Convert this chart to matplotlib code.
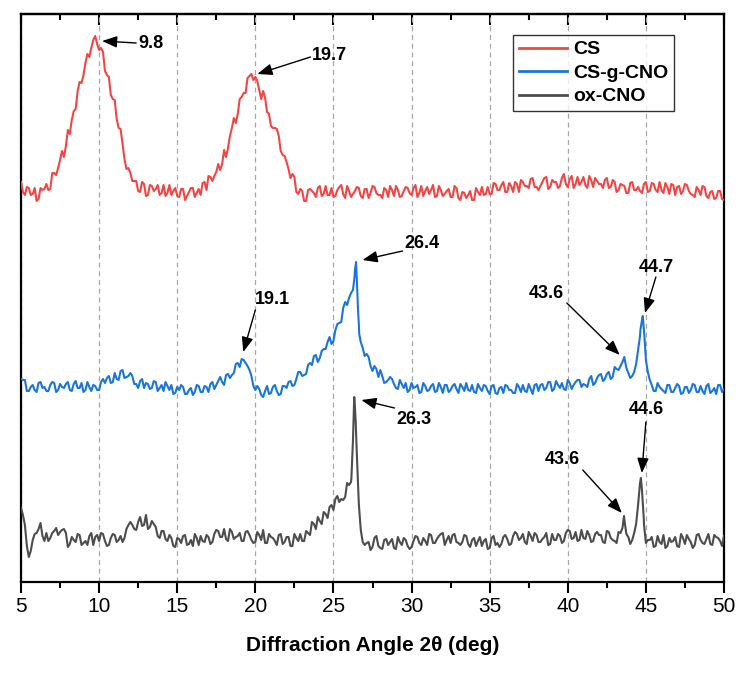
import numpy as np
import matplotlib
matplotlib.use("Agg")
import matplotlib.pyplot as plt
from matplotlib import font_manager
from matplotlib.ticker import MultipleLocator

# ---------------- data (intensity in arbitrary units, offset per curve) ----------------
angle_grid = np.arange(5, 50.001, 0.25)        # 5.000, 5.250, ... 50.000
angle_mid = np.arange(5.125, 49.9, 0.25)       # 5.125, 5.375, ... 49.875

cs = [400,387,394,388,381,394,393,392,409,407, 422,425,452,462,473,500,507,528,534,546,
      532,530,507,487,482,454,438,413,409,401, 391,400,386,397,391,397,389,386,397,391,
      386,393,382,390,394,389,387,400,406,401, 410,412,432,434,454,459,483,489,504,508,
      505,492,491,470,456,454,446,427,420,404, 405,388,391,381,393,389,394,386,396,387,
      385,392,397,384,391,388,395,386,393,384, 396,389,387,394,385,392,396,385,391,394,
      387,397,389,386,395,392,385,396,386,391, 385,396,384,390,384,391,382,390,395,388,
      388,399,392,397,390,399,390,398,402,396, 394,404,395,396,404,393,402,400,396,408,
      395,406,398,397,405,394,402,404,398,394, 404,395,400,392,397,389,399,392,395,389,
      400,391,398,390,392,399,388,397,395,388, 398,391,387,395,387,395,384,391,384,391,
      382]
cs_mid = [390,395,387,394,383,392,398,393,409,414, 431,436,448,471,491,499,519,525,542,538,
          534,511,505,483,463,453,423,414,401,401, 390,398,387,396,393,387,397,389,387,394,
          385,393,386,394,385,393,399,392,405,406, 418,418,425,446,464,468,485,489,506,502,
          501,483,484,468,454,453,431,426,413,408, 390,393,381,392,391,385,396,388,387,394,
          386,395,388,396,385,391,394,384,393,389, 395,387,384,392,396,386,392,386,395,389,
          394,385,396,391,388,397,386,392,388,393, 385,394,382,389,387,382,394,387,387,395,
          388,398,392,400,390,396,400,390,400,396, 403,395,392,400,405,395,400,394,404,398,
          403,394,405,400,397,406,395,401,398,402, 394,402,390,398,396,389,400,392,391,398,
          390,399,392,400,389,395,398,387,396,391, 397,388,385,392,396,386,390,383,391,383]

cs_g_cno = [203,202,191,197,190,200,195,191,200,190, 198,194,200,191,201,194,190,200,191,196,
            192,203,204,199,209,202,212,205,209,198, 194,203,199,193,201,191,197,200,192,188,
            195,197,188,192,187,197,190,196,190,200, 197,205,197,208,207,218,215,222,216,206,
            192,193,185,196,189,197,187,196,194,201, 197,210,206,208,219,226,220,231,233,245,
            241,258,260,280,284,292,300,240,226,225, 211,213,212,199,202,203,194,202,194,190,
            199,195,189,199,191,196,190,199,189,197, 192,198,189,195,199,191,190,198,191,196,
            188,197,188,195,197,192,189,198,190,191, 198,188,198,197,192,200,191,201,194,193,
            202,193,200,202,198,195,206,199,207,201, 208,203,215,212,220,214,204,210,232,262,
            222,202,191,199,193,189,197,190,198,188, 195,189,198,190,196,188,198,191,188,197,
            193]
cs_g_cno_mid = [202,191,195,192,199,194,191,197,199,192, 195,198,192,198,194,199,192,195,197,192,
                200,199,206,200,203,211,204,206,206,198, 201,194,198,194,200,194,191,196,197,189,
                192,195,188,194,190,196,190,195,198,193, 201,200,207,204,209,219,223,219,212,196,
                196,187,191,188,195,191,188,196,200,196, 203,210,207,217,217,227,224,233,240,238,
                252,259,274,277,289,312,258,234,228,216, 216,205,206,200,205,198,193,198,199,192,
                194,197,190,196,192,198,191,195,197,190, 196,193,198,191,192,197,189,194,197,191,
                196,189,194,189,196,192,189,195,197,190, 193,197,191,198,194,200,193,197,199,192,
                199,197,202,195,197,203,197,204,208,203, 210,205,213,216,224,209,206,218,246,252,
                210,197,191,195,191,197,190,194,196,189, 195,192,197,190,191,196,189,194,197,190]
cs_g_cno_peak_x = [26.35, 26.45, 26.58, 26.65, 43.62, 44.65, 44.8, 44.9]
cs_g_cno_peak_y = [305, 320, 270, 248, 225, 252, 266, 247]

ox_cno = [74,57,25,42,49,59,41,41,49,54, 50,53,35,45,40,47,39,37,49,45,
          41,48,36,44,47,42,40,53,60,53, 60,56,67,55,58,46,51,43,47,36,
          44,39,47,38,36,44,46,40,45,40, 52,45,53,41,50,45,49,41,51,42,
          40,47,52,39,45,41,47,38,45,36, 48,41,41,51,47,58,65,58,68,75,
          72,86,83,85,97,142,127,52,37,40, 35,46,34,42,37,43,33,40,44,36,
          35,46,39,44,37,47,39,46,49,42, 39,48,39,40,46,35,44,41,36,43,
          34,46,39,38,47,37,46,48,44,40, 50,41,47,40,45,37,48,42,46,41,
          52,43,50,42,44,51,40,48,47,40, 51,44,41,50,54,48,38,49,77,92,
          39,42,35,46,38,34,44,41,36,48, 38,43,34,47,42,38,48,37,45,41,
          46]
ox_cno_mid = [67,36,31,48,53,46,49,44,51,47, 52,49,38,42,48,37,41,46,37,47,
              49,41,37,48,40,46,44,57,57,52, 65,57,53,61,55,44,51,41,44,35,
              43,46,37,42,48,37,41,47,38,48, 51,45,43,53,43,46,41,50,47,39,
              50,42,39,48,44,37,48,40,45,36, 44,48,41,49,60,53,61,70,64,77,
              83,80,82,99,100,175,78,40,39,32, 44,36,33,43,40,34,45,37,42,33,
              41,45,37,41,48,39,43,48,37,46, 47,40,37,47,38,42,36,45,41,33,
              44,37,35,45,43,38,50,42,48,38, 46,49,40,43,49,38,42,48,39,49,
              51,44,41,52,43,47,41,50,47,39, 50,42,39,49,62,45,42,58,99,58,
              42,45,36,40,47,36,40,45,35,44, 47,40,37,48,39,43,38,47,44,36]
ox_cno_peak_x = [26.15, 26.33, 26.42, 26.6, 43.6, 44.62, 44.68, 44.87]
ox_cno_peak_y = [104, 185, 162, 87, 66, 97, 104, 62]

series_names = ["CS", "CS-g-CNO", "ox-CNO"]
series_colors = ["#F44545", "#1A76DA", "#4D4D4D"]

# annotations: label, arrow tip (x, y), arrow tail (x, y), text position (x, y), alignment
ann_labels = ["9.8", "19.7", "19.1", "26.4", "43.6", "44.7", "26.3", "43.6", "44.6"]
ann_tip = [(10.19, 541), (20.13, 508), (19.23, 230), (26.86, 322), (43.33, 227),
           (44.94, 269), (26.79, 182), (43.46, 69), (44.74, 109)]
ann_tail = [(12.37, 539), (23.53, 525), (20.0, 272), (29.42, 331), (39.94, 279),
            (45.64, 305), (28.91, 174), (40.96, 112), (45.0, 160)]
ann_text = [(12.5, 539), (23.65, 527), (21.09, 282), (29.55, 339), (38.65, 289),
            (45.64, 315), (30.13, 162), (39.68, 123), (45.0, 172)]
ann_ha = ["left", "left", "center", "left", "center", "center", "center", "center", "center"]


def merged(*pairs):
    xs = np.concatenate([np.asarray(p[0], float) for p in pairs])
    ys = np.concatenate([np.asarray(p[1], float) for p in pairs])
    o = np.argsort(xs, kind="stable")
    return xs[o], ys[o]


names = {f.name for f in font_manager.fontManager.ttflist}
narrow = "Liberation Sans Narrow" if "Liberation Sans Narrow" in names else "Liberation Sans"
plt.rcParams["font.family"] = [narrow, "Liberation Sans", "DejaVu Sans"]

fig = plt.figure(figsize=(7.55, 6.74), dpi=100)
ax = fig.add_axes([21 / 755, 92 / 674, 703 / 755, 568 / 674])

x_r, y_r = merged((angle_grid, cs), (angle_mid, cs_mid))
x_b, y_b = merged((angle_grid, cs_g_cno), (angle_mid, cs_g_cno_mid),
                  (cs_g_cno_peak_x, cs_g_cno_peak_y))
x_g, y_g = merged((angle_grid, ox_cno), (angle_mid, ox_cno_mid),
                  (ox_cno_peak_x, ox_cno_peak_y))

ax.plot(x_r, y_r, color=series_colors[0], lw=1.5, label=series_names[0], zorder=3)
ax.plot(x_b, y_b, color=series_colors[1], lw=1.5, label=series_names[1], zorder=3)
ax.plot(x_g, y_g, color=series_colors[2], lw=1.5, label=series_names[2], zorder=3)

ax.set_xlim(5, 50)
ax.set_ylim(0, 568)
ax.set_yticks([])
ax.xaxis.set_major_locator(MultipleLocator(5))
ax.xaxis.set_minor_locator(MultipleLocator(2.5))
ax.tick_params(axis="x", which="major", direction="out", length=8, width=1.5,
               labelsize=15, pad=3)
ax.tick_params(axis="x", which="minor", direction="out", length=4, width=1.5)
for s in ax.spines.values():
    s.set_linewidth(1.6)

sec = ax.secondary_xaxis("top")
sec.xaxis.set_major_locator(MultipleLocator(5))
sec.xaxis.set_minor_locator(MultipleLocator(2.5))
sec.tick_params(axis="x", which="major", direction="in", length=8, width=1.5, labeltop=False)
sec.tick_params(axis="x", which="minor", direction="in", length=4, width=1.5)
sec.spines["top"].set_linewidth(1.6)

ax.xaxis.grid(True, which="major", color="#a8a8a8", ls=(0, (4, 3)), lw=0.9)
ax.set_axisbelow(True)

ax.set_xlabel("Diffraction Angle 2θ (deg)", fontsize=15, fontweight="bold",
              family=[narrow, "Liberation Sans", "DejaVu Sans"], labelpad=14)

leg = ax.legend(loc="upper right", bbox_to_anchor=(0.929, 0.963), borderaxespad=0,
                frameon=True, fancybox=False, edgecolor="black", handlelength=2.5,
                handletextpad=0.3, labelspacing=0.3, borderpad=0.3,
                prop={"family": "Liberation Sans", "weight": "bold", "size": 14})
leg.get_frame().set_linewidth(1.0)
for h in leg.get_lines():
    h.set_linewidth(2.0)

for lab, tip, tail, tpos, ha in zip(ann_labels, ann_tip, ann_tail, ann_text, ann_ha):
    ax.annotate("", xy=tip, xytext=tail,
                arrowprops=dict(arrowstyle="-|>,head_length=0.9,head_width=0.35",
                                color="black", lw=1.0, shrinkA=0, shrinkB=0),
                zorder=5)
    ax.text(tpos[0], tpos[1], lab, ha=ha, va="center", fontsize=13, fontweight="bold",
            family="Liberation Sans", zorder=6)

fig.savefig("out.png", dpi=100)
